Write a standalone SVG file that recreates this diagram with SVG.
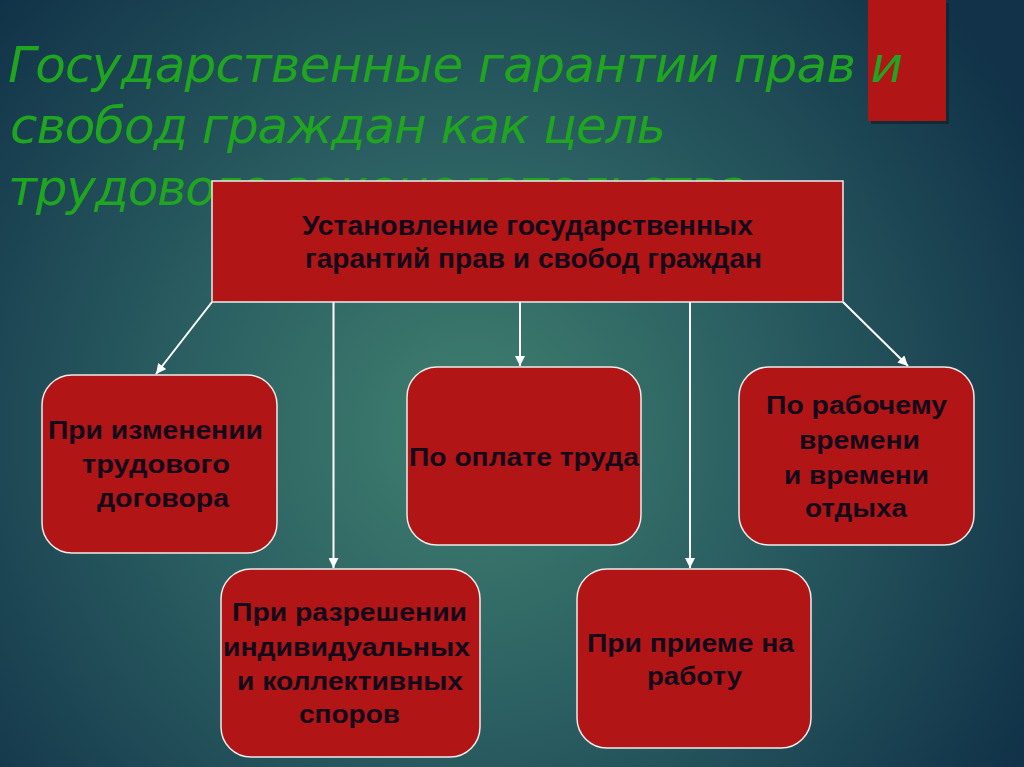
<svg xmlns="http://www.w3.org/2000/svg" width="1024" height="767" viewBox="0 0 1024 767">
  <defs>
    <radialGradient id="bg" cx="470" cy="430" r="640" gradientUnits="userSpaceOnUse">
      <stop offset="0" stop-color="#40806f"/>
      <stop offset="0.45" stop-color="#2b5f62"/>
      <stop offset="1" stop-color="#113248"/>
    </radialGradient>
    <marker id="arr" viewBox="0 0 10 10" refX="10" refY="5" markerWidth="11" markerHeight="10" markerUnits="userSpaceOnUse" orient="auto">
      <path d="M0,0 L10,5 L0,10 Z" fill="#ffffff"/>
    </marker>
    <style>
      .title { font-family: "DejaVu Sans", "Liberation Sans", sans-serif; font-size: 50px; font-style: oblique; fill: #1fa51f; }
      .box { fill: #b21515; stroke: #ececec; stroke-width: 1.5; }
      .lbl { font-family: "Liberation Sans", Arial, sans-serif; font-weight: bold; font-size: 25px; fill: #120a1a; }
      .main { font-size: 28px; }
      .conn { stroke: #ffffff; stroke-width: 2; fill: none; marker-end: url(#arr); }
    </style>
  </defs>

  <rect x="0" y="0" width="1024" height="767" fill="url(#bg)"/>

  <g id="corner-accent">
    <rect x="871" y="3" width="78" height="121" fill="#0b1f2a" opacity="0.6"/>
    <rect x="868" y="0" width="78" height="121" fill="#b21515"/>
  </g>

  <g id="title">
    <text class="title" x="8" y="82" textLength="895">Государственные гарантии прав и</text>
    <text class="title" x="10" y="143" textLength="656">свобод граждан как цель</text>
    <text class="title" x="8" y="205" textLength="740">трудового законодательства</text>
  </g>

  <g id="connectors">
    <line class="conn" x1="212" y1="302" x2="156" y2="374"/>
    <line class="conn" x1="333.5" y1="302" x2="333.5" y2="568"/>
    <line class="conn" x1="520" y1="302" x2="520" y2="366"/>
    <line class="conn" x1="690" y1="302" x2="690" y2="568"/>
    <line class="conn" x1="843" y1="302" x2="908" y2="366"/>
  </g>

  <g id="node-main">
    <rect class="box" x="212" y="181" width="631" height="121"/>
    <text class="lbl main" x="302" y="235" textLength="451" lengthAdjust="spacingAndGlyphs">Установление государственных</text>
    <text class="lbl main" x="305" y="268" textLength="457" lengthAdjust="spacingAndGlyphs">гарантий прав и свобод граждан</text>
  </g>

  <g id="node-change">
    <rect class="box" x="42" y="375" width="235" height="178" rx="30" ry="30"/>
    <text class="lbl" x="48" y="439" textLength="215" lengthAdjust="spacingAndGlyphs">При изменении</text>
    <text class="lbl" x="82" y="473" textLength="148" lengthAdjust="spacingAndGlyphs">трудового</text>
    <text class="lbl" x="97" y="507" textLength="132" lengthAdjust="spacingAndGlyphs">договора</text>
  </g>

  <g id="node-pay">
    <rect class="box" x="407" y="367" width="234" height="178" rx="30" ry="30"/>
    <text class="lbl" x="409" y="466" textLength="230" lengthAdjust="spacingAndGlyphs">По оплате труда</text>
  </g>

  <g id="node-time">
    <rect class="box" x="739" y="367" width="235" height="178" rx="30" ry="30"/>
    <text class="lbl" x="766" y="414" textLength="181" lengthAdjust="spacingAndGlyphs">По рабочему</text>
    <text class="lbl" x="799" y="449" textLength="121" lengthAdjust="spacingAndGlyphs">времени</text>
    <text class="lbl" x="784" y="484" textLength="145" lengthAdjust="spacingAndGlyphs">и времени</text>
    <text class="lbl" x="805" y="517" textLength="102" lengthAdjust="spacingAndGlyphs">отдыха</text>
  </g>

  <g id="node-disputes">
    <rect class="box" x="221" y="569" width="259" height="188" rx="30" ry="30"/>
    <text class="lbl" x="232" y="621" textLength="235" lengthAdjust="spacingAndGlyphs">При разрешении</text>
    <text class="lbl" x="223" y="656" textLength="247" lengthAdjust="spacingAndGlyphs">индивидуальных</text>
    <text class="lbl" x="237" y="690" textLength="226" lengthAdjust="spacingAndGlyphs">и коллективных</text>
    <text class="lbl" x="299" y="723" textLength="101" lengthAdjust="spacingAndGlyphs">споров</text>
  </g>

  <g id="node-hiring">
    <rect class="box" x="577" y="569" width="234" height="179" rx="30" ry="30"/>
    <text class="lbl" x="587" y="652" textLength="207" lengthAdjust="spacingAndGlyphs">При приеме на</text>
    <text class="lbl" x="647" y="685" textLength="95" lengthAdjust="spacingAndGlyphs">работу</text>
  </g>
</svg>
